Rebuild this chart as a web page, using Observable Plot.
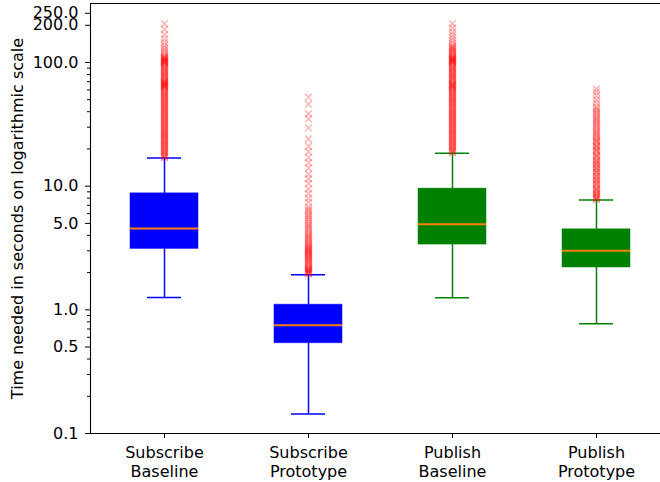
<!DOCTYPE html>
<html><head><meta charset="utf-8">
<script src="https://cdn.jsdelivr.net/npm/d3@7"></script>
<script src="https://cdn.jsdelivr.net/npm/@observablehq/plot@0.6"></script>
<style>
html,body{margin:0;padding:0;background:#fff;overflow:hidden}
</style></head><body><div id="chart"></div>
<script>
const categories = ["Subscribe Baseline", "Subscribe Prototype", "Publish Baseline", "Publish Prototype"];
const tickLabels = ["Subscribe\nBaseline", "Subscribe\nPrototype", "Publish\nBaseline", "Publish\nPrototype"];
const boxColors = ["#0000ff", "#0000ff", "#008000", "#008000"];
const whiskerLow  = [1.26, 0.1435, 1.25, 0.77];
const quartile1   = [3.11, 0.537, 3.37, 2.20];
const medians     = [4.54, 0.751, 4.91, 3.01];
const quartile3   = [8.75, 1.10, 9.55, 4.48];
const whiskerHigh = [16.9, 1.92, 18.5, 7.74];

const outliersSubscribeBaseline = [
  17.0, 17.3, 17.7, 18.0, 18.4, 18.8, 19.1, 19.5, 19.9, 20.3, 20.7, 21.5, 22.4, 23.3, 24.2, 25.2, 26.2, 27.2,
  28.3, 29.4, 30.6, 31.8, 33.1, 34.4, 35.8, 37.2, 38.7, 40.3, 41.9, 43.6, 45.3, 47.1, 49.0, 51.0, 53.0,
  55.1, 57.3, 59.6, 62.0, 63.0, 64.0, 64.5, 65.0, 66.0, 66.0, 67.1, 68.0, 68.5, 69.0, 69.8, 72.6, 75.5,
  78.5, 81.6, 84.9, 88.3, 91.8, 95.5, 99.3, 100, 101, 102, 103.3, 104, 105, 106, 107.4, 108, 110, 111,
  113, 117, 121, 126, 131, 137, 145, 155, 168, 185, 206,
  21.1, 21.9, 22.8, 23.7, 24.7, 25.7, 26.7, 27.7, 28.8, 30.0, 31.2, 32.4, 33.7, 35.1, 36.5, 37.9, 39.5,
  41.1, 42.7, 44.4, 46.2, 48.0, 50.0, 52.0, 54.0, 56.2, 58.4, 60.8, 71.2, 74.0, 77.0, 80.0, 83.2, 86.6,
  90.0, 93.6, 97.4
];
const outliersSubscribePrototype = [
  1.95, 1.98, 2.0, 2.03, 2.05, 2.08, 2.1, 2.13, 2.15, 2.2, 2.25, 2.3, 2.35, 2.4, 2.45, 2.5, 2.55, 2.6, 2.7,
  2.8, 2.9, 3.0, 3.1, 3.2, 3.35, 3.5, 3.7, 3.9, 4.1, 4.4, 4.7, 5.0, 5.4, 5.8, 6.3, 6.8, 7.4, 8.0, 8.7,
  9.5, 10.5, 11.5, 12.5, 14, 15.5, 17, 19, 21, 24.1, 29.6, 35, 38.5, 46, 52.5,
  2.65, 2.75, 2.85, 2.95, 3.05, 3.15, 3.28, 3.42, 3.6, 3.8, 4.0, 4.25, 4.55, 4.85, 5.2, 5.6, 6.0, 6.5
];
const outliersPublishBaseline = [
  18.6, 19.0, 19.3, 19.7, 20.1, 20.5, 20.9, 21.3, 21.7, 22.6, 23.5, 24.4, 25.4, 26.4, 27.5, 28.6, 29.7,
  30.9, 32.1, 33.4, 34.7, 36.1, 37.6, 39.1, 40.6, 42.2, 43.9, 45.7, 47.5, 49.4, 51.4, 53.4, 55.6, 57.8,
  60.1, 62.5, 63.5, 64.2, 65.0, 65.8, 66.5, 67.6, 68.5, 70.3, 73.1, 76.0, 79.0, 82.2, 85.5, 88.9, 92.5,
  96.2, 100.0, 101, 102, 103, 104.0, 105, 106, 107, 108.2, 109, 110, 112.5, 117.0, 121.7, 126.6, 131.6,
  137.0, 143, 150, 158, 167, 177, 190, 206,
  22.1, 23.0, 23.9, 24.9, 25.9, 26.9, 28.0, 29.1, 30.3, 31.5, 32.8, 34.1, 35.4, 36.8, 38.3, 39.8, 41.4,
  43.0, 44.8, 46.6, 48.4, 50.4, 52.4, 54.5, 56.7, 58.9, 61.3, 71.7, 74.6, 77.5, 80.6, 83.8, 87.2, 90.7,
  94.3, 98.1, 114.7, 119.3, 124.1, 129, 134
];
const outliersPublishPrototype = [
  7.8, 7.9, 8.1, 8.2, 8.4, 8.6, 8.7, 9.0, 9.2, 9.4, 9.6, 9.8, 10.2, 10.4, 10.6, 11.0, 11.2, 11.4, 11.9,
  12.0, 12.4, 12.9, 13.0, 13.4, 13.9, 14.0, 14.5, 15.0, 15.1, 15.7, 16.0, 16.3, 17.0, 17.5, 17.7, 18.4,
  19.1, 19.5, 19.9, 20.7, 21.0, 21.5, 22.4, 23.5, 25, 26.5, 28, 30, 32, 34, 36, 38.5, 41, 44, 47, 50,
  54, 57.5, 61,
  23, 24.2, 25.7, 27.2, 29, 31, 33, 35, 37.2, 39.7, 42.5
];
const outlierLists = [outliersSubscribeBaseline, outliersSubscribePrototype, outliersPublishBaseline, outliersPublishPrototype];

const yTickValues = [0.1, 0.5, 1, 5, 10, 100, 200, 250];
const yMinorTicks = [0.2, 0.3, 0.4, 0.6, 0.7, 0.8, 0.9, 2, 3, 4, 6, 7, 8, 9, 20, 30, 40, 50, 60, 70, 80, 90];
const yDomain = [0.1, 300];
const yLabel = "Time needed in seconds on logarithmic scale";

const stats = categories.map((c, i) => ({
  category: c, color: boxColors[i], low: whiskerLow[i], q1: quartile1[i],
  median: medians[i], q3: quartile3[i], high: whiskerHigh[i]
}));
const outliers = categories.flatMap((c, i) => outlierLists[i].map(v => ({category: c, value: v})));
const fmt = d3.format(".1f");

const chart = Plot.plot({
  width: 660, height: 482,
  marginLeft: 90, marginRight: 0, marginTop: 3, marginBottom: 49,
  style: {fontFamily: "DejaVu Sans", fontSize: "16px", background: "#fff", color: "#000"},
  x: {type: "band", domain: categories, range: [90, 669], paddingInner: 0.53, paddingOuter: 0.265, align: 0.5},
  y: {type: "log", domain: yDomain},
  color: {type: "identity"},
  marks: [
    Plot.ruleX(stats, {x: "category", y1: "low", y2: "q1", stroke: "color", strokeWidth: 1.5}),
    Plot.ruleX(stats, {x: "category", y1: "q3", y2: "high", stroke: "color", strokeWidth: 1.5}),
    Plot.tickY(stats, {x: "category", y: "low", stroke: "color", strokeWidth: 1.5, insetLeft: 17, insetRight: 17}),
    Plot.tickY(stats, {x: "category", y: "high", stroke: "color", strokeWidth: 1.5, insetLeft: 17, insetRight: 17}),
    Plot.barY(stats, {x: "category", y1: "q1", y2: "q3", fill: "color", stroke: "color", strokeOpacity: 0.5, strokeWidth: 1}),
    Plot.tickY(stats, {x: "category", y: "median", stroke: "#ff7f0e", strokeWidth: 2}),
    Plot.dot(outliers, {x: "category", y: "value", symbol: "times", r: 3.2, stroke: "#ff0000", strokeOpacity: 0.28, strokeWidth: 1.6}),
    Plot.axisY(yMinorTicks, {tickSize: 3, tickFormat: () => "", label: null}),
    Plot.axisY(yTickValues, {tickSize: 5, tickFormat: () => "", label: null}),
    Plot.text(yTickValues, {y: d => d, text: d => fmt(d), frameAnchor: "left", textAnchor: "end", dx: -12, fontSize: 16, fill: "#000"}),
    Plot.axisX({tickSize: 5, tickPadding: 6, tickFormat: d => tickLabels[categories.indexOf(d)], fontSize: 16, lineHeight: 1.2, label: null}),
    Plot.ruleY([yDomain[0]], {stroke: "#000", strokeWidth: 1.1}),
    Plot.ruleY([yDomain[1]], {stroke: "#000", strokeWidth: 1.1}),
    Plot.frame({anchor: "left", stroke: "#000", strokeWidth: 1.1}),
    Plot.text([yLabel], {frameAnchor: "left", rotate: -90, textAnchor: "middle", dx: -73, fontSize: 16, fill: "#000"})
  ]
});
document.getElementById("chart").appendChild(chart);
</script></body></html>
